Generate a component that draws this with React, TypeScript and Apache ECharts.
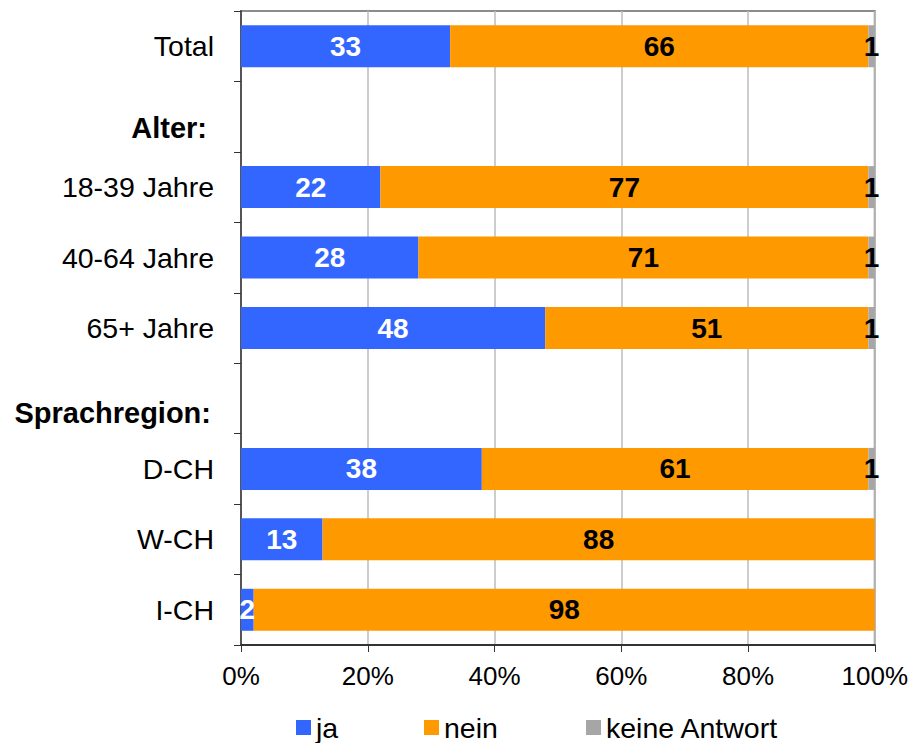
import React, { useEffect, useRef } from "react";
import * as echarts from "echarts";

// Row labels, top to bottom (empty group-heading rows carry no bars)
const categories = [
  "Total",
  "Alter:",
  "18-39 Jahre",
  "40-64 Jahre",
  "65+ Jahre",
  "Sprachregion:",
  "D-CH",
  "W-CH",
  "I-CH",
];

// Answer shares in percent per row
const ja = [33, null, 22, 28, 48, null, 38, 13, 2];
const nein = [66, null, 77, 71, 51, null, 61, 88, 98];
const keineAntwort = [1, null, 1, 1, 1, null, 1, 0, 0];

const seriesNames = ["ja", "nein", "keine Antwort"];
const xTicks = [0, 20, 40, 60, 80, 100];

const FONT = "'Liberation Sans', Arial, sans-serif";

// 100% stacked: each row is scaled by its own total
const rowSums = categories.map((_, i) =>
  [ja[i], nein[i], keineAntwort[i]].reduce((s: number, v) => s + (v ?? 0), 0)
);
const normalize = (arr: (number | null)[]) =>
  arr.map((v, i) => (v == null || v === 0 ? null : { value: (v / rowSums[i]) * 100, raw: v }));

export default function App() {
  const ref = useRef<HTMLDivElement>(null);

  useEffect(() => {
    if (!ref.current) return;
    const chart = echarts.init(ref.current, null, { renderer: "svg" });

    const mkSeries = (name: string, data: (number | null)[], color: string, labelColor: string) => ({
      name,
      type: "bar",
      stack: "total",
      barWidth: 42,
      itemStyle: { color },
      label: {
        show: true,
        position: "inside",
        color: labelColor,
        fontFamily: FONT,
        fontWeight: "bold",
        fontSize: 28,
        formatter: (p: any) => (p.data && p.data.raw != null ? String(p.data.raw) : ""),
      },
      data: normalize(data),
    });

    // one legend block per series, spaced like a spreadsheet key
    const legendLefts = [291, 419, 581];
    const legends = seriesNames.map((name, i) => ({
      left: legendLefts[i],
      top: 708,
      itemWidth: 15,
      itemHeight: 15,
      icon: "rect",
      textStyle: { fontFamily: FONT, fontSize: 28.5, color: "#000" },
      data: [name],
    }));

    const headingStyle = { fontFamily: FONT, fontSize: 29, fontWeight: "bold", color: "#000" };

    chart.setOption({
      animation: false,
      textStyle: { fontFamily: FONT },
      grid: {
        left: 241,
        right: 35,
        top: 11,
        bottom: 98,
        show: true,
        borderColor: "#8c8c8c",
        borderWidth: 2,
        containLabel: false,
      },
      legend: legends,
      xAxis: {
        type: "value",
        min: 0,
        max: 100,
        interval: 20,
        axisLine: { show: true, lineStyle: { color: "#333", width: 2 } },
        axisTick: { show: true, length: 7, lineStyle: { color: "#333" } },
        splitLine: { show: true, lineStyle: { color: "#bdbdbd", width: 1.5 } },
        axisLabel: {
          margin: 18,
          color: "#000",
          fontFamily: FONT,
          fontSize: 26,
          formatter: (v: number) => (xTicks.includes(v) ? `${v}%` : ""),
        },
      },
      yAxis: {
        type: "category",
        inverse: true,
        data: categories,
        axisLine: { show: true, lineStyle: { color: "#555", width: 2 } },
        axisTick: { show: true, length: 7, lineStyle: { color: "#333" } },
        axisLabel: {
          margin: 27,
          color: "#000",
          fontFamily: FONT,
          fontSize: 28.5,
          formatter: (v: string) =>
            v === "Alter:" ? `{h1|${v}}` : v === "Sprachregion:" ? `{h2|${v}}` : v,
          rich: {
            h1: { ...headingStyle, padding: [22, 7, 0, 0] },
            h2: { ...headingStyle, padding: [30, 3, 0, 0] },
          },
        },
      },
      series: [
        mkSeries("ja", ja, "#3366FF", "#ffffff"),
        mkSeries("nein", nein, "#FF9900", "#000000"),
        mkSeries("keine Antwort", keineAntwort, "#A6A6A6", "#000000"),
      ],
    });

    return () => chart.dispose();
  }, []);

  return (
    <div
      ref={ref}
      style={{ position: "fixed", left: 0, top: 0, width: 911, height: 743, background: "#fff" }}
    />
  );
}
